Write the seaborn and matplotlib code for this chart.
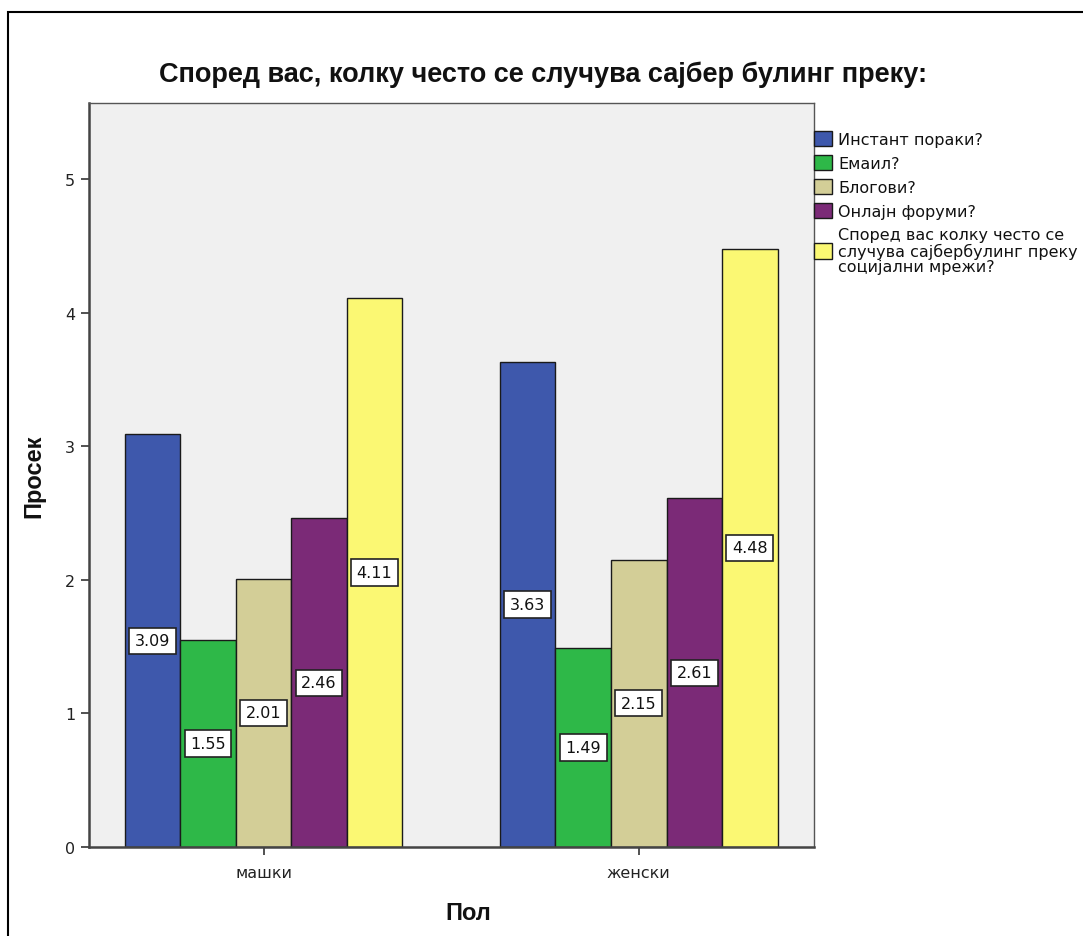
import matplotlib
matplotlib.use("Agg")
import matplotlib.pyplot as plt
import seaborn as sns
import pandas as pd
from matplotlib.patches import Rectangle

sns.set_theme(style="white")
plt.rcParams['font.family'] = ['Liberation Sans', 'DejaVu Sans']
plt.rcParams['text.color'] = '#111111'
plt.rcParams['axes.labelcolor'] = '#111111'

groups = ["машки", "женски"]
series = ["Инстант пораки?", "Емаил?", "Блогови?", "Онлајн форуми?",
          "Според вас колку често се\nслучува сајбербулинг преку\nсоцијални мрежи?"]
values_m = [3.09, 1.55, 2.01, 2.46, 4.11]
values_f = [3.63, 1.49, 2.15, 2.61, 4.48]
y_ticks = [0, 1, 2, 3, 4, 5]
colors = ["#3E58AC", "#2EB848", "#D3CE97", "#7B2A77", "#FBF873"]

rows = []
for s, vm, vf in zip(series, values_m, values_f):
    rows.append({"Пол": groups[0], "series": s, "Просек": vm})
    rows.append({"Пол": groups[1], "series": s, "Просек": vf})
df = pd.DataFrame(rows)

fig = plt.figure(figsize=(10.83, 9.37), dpi=100)
ax = fig.add_axes([0.0822, 0.095, 0.6694, 0.794])
ax.set_facecolor("#F0F0F0")

sns.barplot(data=df, x="Пол", y="Просек", hue="series", order=groups,
            hue_order=series, palette=colors, width=0.74, gap=0,
            edgecolor="#1a1a1a", linewidth=1.0, errorbar=None, ax=ax,
            saturation=1)

for cont in ax.containers:
    ax.bar_label(cont, labels=[f"{v:.2f}" for v in cont.datavalues],
                 label_type="center", fontsize=11.5, color="#111111",
                 family="DejaVu Sans",
                 bbox=dict(boxstyle="square,pad=0.35", facecolor="white",
                           edgecolor="#222222", linewidth=1.2))

ax.set_ylim(0, 5.57)
ax.set_xlim(-0.465, 1.467)
ax.set_yticks(y_ticks, labels=[str(t) for t in y_ticks], family="DejaVu Sans")
ax.set_xticks([0, 1], labels=groups, family="DejaVu Sans")
ax.tick_params(axis="both", direction="out", length=6, width=1.2,
               color="#333333", labelsize=11.5, labelcolor="#222222",
               left=True, bottom=True)
ax.tick_params(axis="x", pad=7)
ax.tick_params(axis="y", pad=4)

for side in ["left", "bottom"]:
    ax.spines[side].set_color("#444444")
    ax.spines[side].set_linewidth(1.8)
for side in ["top", "right"]:
    ax.spines[side].set_color("#555555")
    ax.spines[side].set_linewidth(1.0)

ax.set_ylabel("Просек", fontsize=17, fontweight="bold", labelpad=14)
ax.set_xlabel("Пол", fontsize=17, fontweight="bold", labelpad=15, x=0.523)
ax.set_title("Според вас, колку често се случува сајбер булинг преку:",
             fontsize=19.5, fontweight="bold", pad=16, x=0.626)

handles, labels = ax.get_legend_handles_labels()
leg = ax.legend(handles, labels, loc="upper left", bbox_to_anchor=(1.0, 0.963),
                frameon=False, handlelength=1.1,
                handleheight=1.1, handletextpad=0.4, labelspacing=0.5,
                borderaxespad=0.0, borderpad=0.0,
                prop={"family": "DejaVu Sans", "size": 11.5})
for t in leg.get_texts():
    t.set_color("#111111")
    t.set_linespacing(1.05)

fig.patches.append(Rectangle((8 / 1083, -0.1), 1.2, 1 - 13 / 937 + 0.1,
                             transform=fig.transFigure, fill=False,
                             edgecolor="black", linewidth=1.5))

fig.savefig("out.png", dpi=100)
